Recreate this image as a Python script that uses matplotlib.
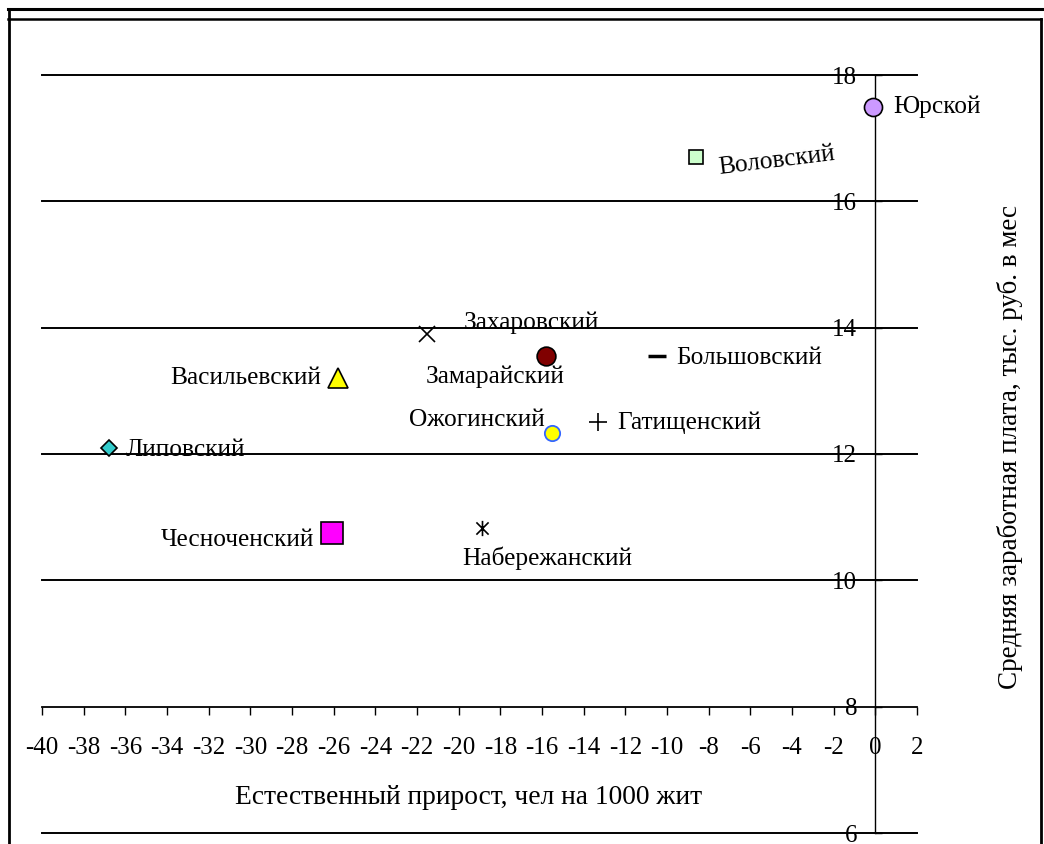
import matplotlib
matplotlib.use("Agg")
import matplotlib.pyplot as plt
from matplotlib.lines import Line2D
from matplotlib.path import Path

plt.rcParams['font.family'] = ['Liberation Serif', 'DejaVu Serif']

# ---- data ----
names = ['Юрской', 'Воловский', 'Захаровский', 'Замарайский', 'Большовский',
         'Васильевский', 'Ожогинский', 'Гатищенский', 'Липовский',
         'Чесноченский', 'Набережанский']
growth = [-0.1, -8.6, -21.5, -15.8, -10.5, -25.8, -15.5, -13.3, -36.8, -26.1, -18.9]
salary = [17.5, 16.7, 13.9, 13.55, 13.55, 13.2, 12.33, 12.5, 12.1, 10.75, 10.83]
x_ticks = list(range(-40, 3, 2))
y_ticks = list(range(6, 19, 2))
x_label = 'Естественный прирост, чел на 1000 жит'
y_label = 'Средняя заработная плата, тыс. руб. в мес'

# ---- styles ----
asterisk = Path([(-1, -1), (1, 1), (-1, 1), (1, -1), (0, -1.25), (0, 1.25)],
                [Path.MOVETO, Path.LINETO, Path.MOVETO, Path.LINETO, Path.MOVETO, Path.LINETO])
styles = [
    dict(marker='o', ms=13, mfc='#CC99FF', mec='black', mew=1.2),
    dict(marker='s', ms=10, mfc='#CCFFCC', mec='black', mew=1.2),
    dict(marker='x', ms=12, mfc='none', mec='black', mew=1.2),
    dict(marker='o', ms=13.5, mfc='#800000', mec='black', mew=1.2),
    dict(marker='_', ms=13, mfc='none', mec='black', mew=2.5),
    dict(marker='^', ms=15, mfc='#FFFF00', mec='black', mew=1.2),
    dict(marker='o', ms=11, mfc='#FFFF00', mec='#3366FF', mew=1.3),
    dict(marker='+', ms=13, mfc='none', mec='black', mew=1.2),
    dict(marker='D', ms=8.5, mfc='#33CCCC', mec='black', mew=1.2),
    dict(marker='s', ms=15.5, mfc='#FF00FF', mec='black', mew=1.2),
    dict(marker=asterisk, ms=11, mfc='none', mec='black', mew=1.2),
]
# label offsets in pixels (dx, dy), alignment, rotation
px = 0.72
label_pos = [
    (20, 0, 'left', 0),
    (81, -4, 'center', 7),
    (104, 11, 'center', 0),
    (-51, -21, 'center', 0),
    (20, -2, 'left', 0),
    (-17, 0, 'right', 0),
    (-8, 13, 'right', 0),
    (19, 0, 'left', 0),
    (17, -2, 'left', 0),
    (-17, -7, 'right', 0),
    (66, -30, 'center', 0),
]

W, H = 1044, 844
fig = plt.figure(figsize=(W / 100, H / 100), dpi=100)
ax = fig.add_axes([42 / W, (H - 833) / H, (917 - 42) / W, (833 - 75) / H])
ax.set_xlim(-40, 2)
ax.set_ylim(6, 18)
ax.patch.set_alpha(0)

for yv in y_ticks:
    if yv != 8:
        ax.axhline(yv, color='black', lw=1.4, zorder=1, clip_on=False)

for sp in ['top', 'right']:
    ax.spines[sp].set_visible(False)
ax.spines['left'].set_position(('data', 0))
ax.spines['bottom'].set_position(('data', 8))
ax.spines['left'].set_linewidth(1.0)
ax.spines['bottom'].set_linewidth(1.3)

ax.set_xticks(x_ticks)
ax.set_xticklabels([str(v) for v in x_ticks])
ax.set_yticks(y_ticks)
ax.set_yticklabels([str(v) for v in y_ticks])
ax.tick_params(axis='x', direction='out', length=6, width=1, pad=16, labelsize=18)
ax.tick_params(axis='y', direction='in', length=5, width=1, pad=13, labelsize=18)

for i, name in enumerate(names):
    ax.plot([growth[i]], [salary[i]], linestyle='none', zorder=3, **styles[i])
    dx, dy, ha, rot = label_pos[i]
    ax.annotate(name, (growth[i], salary[i]), xytext=(dx * px, dy * px),
                textcoords='offset points', ha=ha, va='center', fontsize=18.3,
                rotation=rot, rotation_mode='anchor', zorder=4)

fig.text(469 / W, 1 - 797 / H, x_label, ha='center', va='center', fontsize=19.8)
fig.text(1010 / W, 1 - 447 / H, y_label, ha='center', va='center', fontsize=19.5,
         rotation=90)

# outer frame
def fline(x0, y0, x1, y1, lw):
    fig.add_artist(Line2D([x0 / W, x1 / W], [1 - y0 / H, 1 - y1 / H],
                          transform=fig.transFigure, color='black', lw=lw))

fline(8, 8.5, 1044, 8.5, 2.2)
fline(8.5, 8.5, 8.5, 844, 2.0)
fline(8, 19, 1041, 19, 1.8)
fline(1041, 19, 1041, 844, 2.0)

fig.savefig('out.png', dpi=100)
